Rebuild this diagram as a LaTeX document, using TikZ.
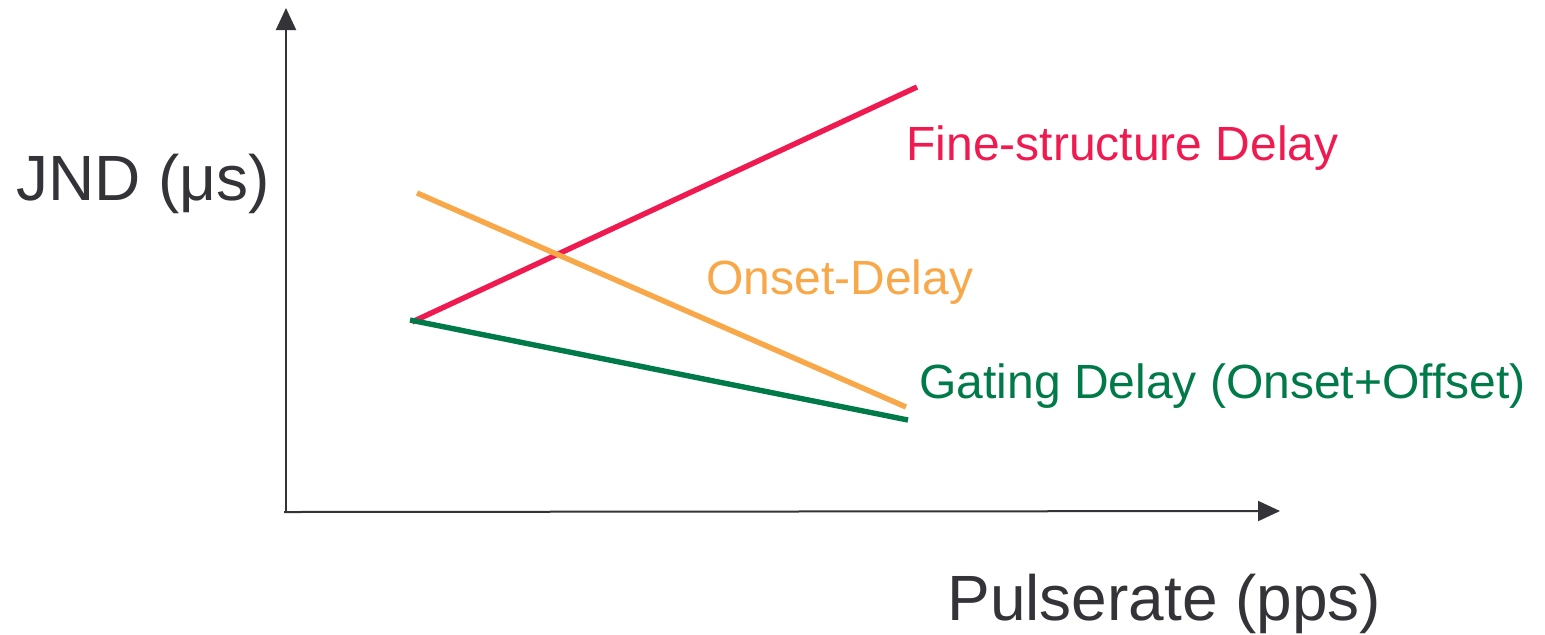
\documentclass[tikz,border=0pt]{standalone}
\usepackage{fontspec}
\setmainfont{Liberation Sans}
\usetikzlibrary{arrows.meta}
\definecolor{axisgray}{HTML}{333338}
\definecolor{finered}{HTML}{EE1A50}
\definecolor{onsetorange}{HTML}{F8A848}
\definecolor{gategreen}{HTML}{007A48}
\tikzset{
  axis/.style={draw=axisgray, line width=1pt, -{Triangle[length=11pt,width=10pt]}},
  curve/.style={line width=2.7pt},
  bigtext/.style={inner sep=0pt, anchor=base west, text=axisgray, font=\fontsize{32pt}{36pt}\selectfont},
  lbl/.style={inner sep=0pt, anchor=base west, font=\fontsize{24pt}{28pt}\selectfont}
}
\begin{document}
\begin{tikzpicture}[x=0.5pt,y=-0.5pt]
\useasboundingbox (0,0) rectangle (1545,634);
% axes
\coordinate (origin) at (286,512);
\coordinate (ytip) at (286,8);
\coordinate (xstart) at (284,512);
\coordinate (xtip) at (1280,511);
\draw[axis] (origin) -- (ytip);
\draw[axis] (xstart) -- (xtip);
% lines
\coordinate (r1) at (412,322);
\coordinate (r2) at (917,87);
\coordinate (o1) at (417,193);
\coordinate (o2) at (906,407);
\coordinate (g1) at (410,320);
\coordinate (g2) at (908,420);
\draw[curve, draw=finered] (r1) -- (r2);
\draw[curve, draw=onsetorange] (o1) -- (o2);
\draw[curve, draw=gategreen] (g1) -- (g2);
% labels
\node[bigtext] (ylabel) at (16,200) {JND (μs)};
\node[bigtext] (xlabel) at (947,620) {Pulserate (pps)};
\node[lbl, text=finered] (fine) at (906,160) {Fine-structure Delay};
\node[lbl, text=onsetorange] (onset) at (706,294) {Onset-Delay};
\node[lbl, text=gategreen] (gate) at (919,398) {Gating Delay (Onset+Offset)};
\end{tikzpicture}
\end{document}
